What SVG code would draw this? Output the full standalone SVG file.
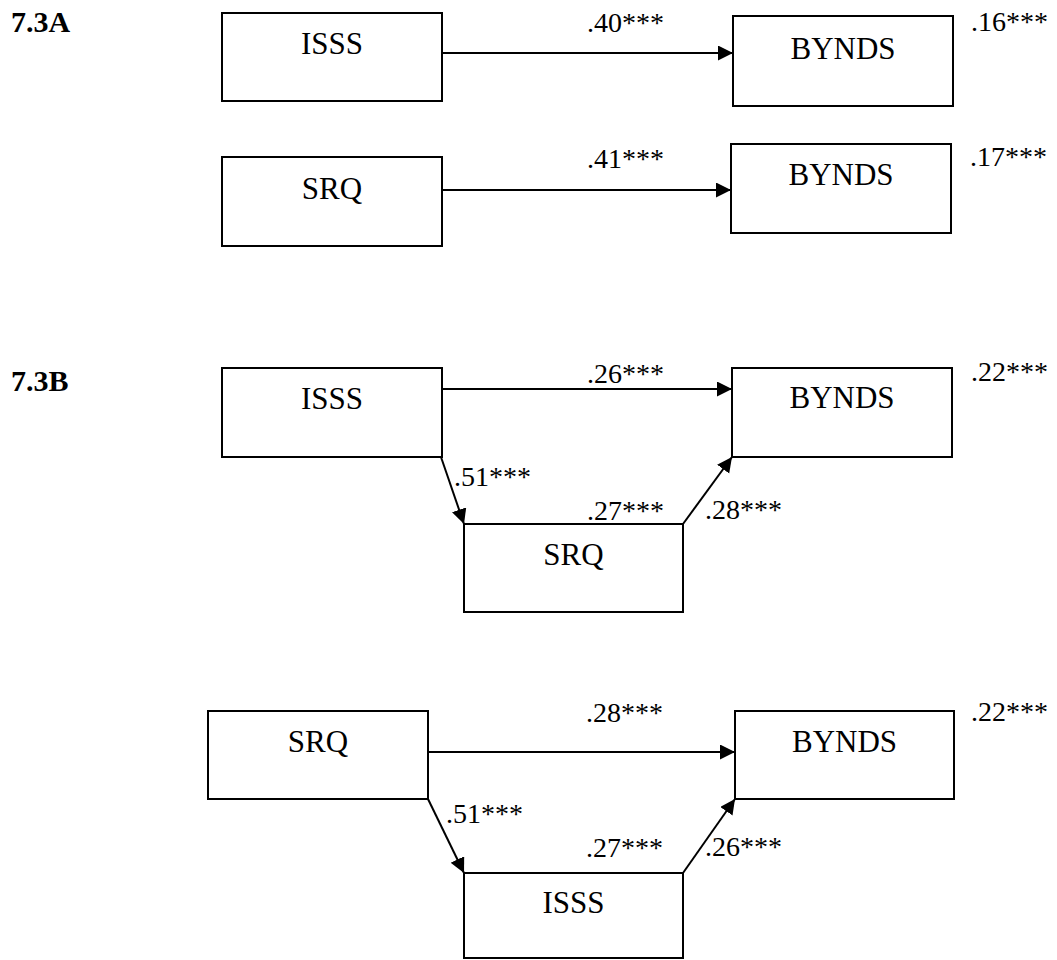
<svg xmlns="http://www.w3.org/2000/svg" width="1057" height="960" viewBox="0 0 1057 960">
  <style>
    .box { fill: #fff; stroke: #000; stroke-width: 2; }
    .node { font-family: "Liberation Serif", "Times New Roman", serif; font-size: 31px; fill: #000; text-anchor: middle; }
    .coef { font-family: "Liberation Serif", "Times New Roman", serif; font-size: 28px; fill: #000; }
    .title { font-family: "Liberation Serif", "Times New Roman", serif; font-size: 30px; font-weight: bold; fill: #000; }
    .edge { stroke: #000; stroke-width: 2; fill: none; marker-end: url(#head); }
  </style>
  <defs>
    <marker id="head" markerUnits="userSpaceOnUse" markerWidth="16" markerHeight="16" refX="15" refY="7.5" orient="auto">
      <path d="M0,0 L15,7.5 L0,15 Z" fill="#000"/>
    </marker>
  </defs>
  <rect width="1057" height="960" fill="#fff"/>

  <!-- panel labels -->
  <text class="title" x="11" y="32">7.3A</text>
  <text class="title" x="11" y="391">7.3B</text>

  <!-- connectors -->
  <g id="connectors">
    <line class="edge" x1="442" y1="53" x2="733" y2="53"/>
    <line class="edge" x1="442" y1="190" x2="731" y2="190"/>
    <line class="edge" x1="442" y1="389" x2="732" y2="389"/>
    <line class="edge" x1="441" y1="457" x2="464" y2="524"/>
    <line class="edge" x1="683" y1="524" x2="732" y2="457"/>
    <line class="edge" x1="428" y1="752" x2="735" y2="752"/>
    <line class="edge" x1="428" y1="799" x2="464" y2="873"/>
    <line class="edge" x1="683" y1="873" x2="735" y2="799"/>
  </g>

  <!-- path coefficients -->
  <g id="coefficients">
    <text class="coef" x="587" y="32">.40***</text>
    <text class="coef" x="971" y="31">.16***</text>
    <text class="coef" x="587" y="168">.41***</text>
    <text class="coef" x="970" y="166">.17***</text>
    <text class="coef" x="587" y="383">.26***</text>
    <text class="coef" x="971" y="381">.22***</text>
    <text class="coef" x="454" y="486">.51***</text>
    <text class="coef" x="587" y="520">.27***</text>
    <text class="coef" x="705" y="519">.28***</text>
    <text class="coef" x="586" y="722">.28***</text>
    <text class="coef" x="971" y="721">.22***</text>
    <text class="coef" x="446" y="823">.51***</text>
    <text class="coef" x="586" y="857">.27***</text>
    <text class="coef" x="705" y="856">.26***</text>
  </g>

  <!-- 7.3A -->
  <g id="a-isss"><rect class="box" x="222" y="13" width="220" height="88"/><text class="node" x="332" y="54">ISSS</text></g>
  <g id="a-bynds1"><rect class="box" x="733" y="16" width="220" height="90"/><text class="node" x="843" y="59">BYNDS</text></g>
  <g id="a-srq"><rect class="box" x="222" y="157" width="220" height="89"/><text class="node" x="332" y="199">SRQ</text></g>
  <g id="a-bynds2"><rect class="box" x="731" y="144" width="220" height="89"/><text class="node" x="841" y="185">BYNDS</text></g>

  <!-- 7.3B, ISSS as predictor -->
  <g id="b1-isss"><rect class="box" x="222" y="368" width="220" height="89"/><text class="node" x="332" y="409">ISSS</text></g>
  <g id="b1-bynds"><rect class="box" x="732" y="368" width="220" height="89"/><text class="node" x="842" y="408">BYNDS</text></g>
  <g id="b1-srq"><rect class="box" x="464" y="524" width="219" height="88"/><text class="node" x="573.5" y="565">SRQ</text></g>

  <!-- 7.3B, SRQ as predictor -->
  <g id="b2-srq"><rect class="box" x="208" y="711" width="220" height="88"/><text class="node" x="318" y="752">SRQ</text></g>
  <g id="b2-bynds"><rect class="box" x="735" y="711" width="219" height="88"/><text class="node" x="844.5" y="752">BYNDS</text></g>
  <g id="b2-isss"><rect class="box" x="464" y="873" width="219" height="85"/><text class="node" x="573.5" y="913">ISSS</text></g>
</svg>
